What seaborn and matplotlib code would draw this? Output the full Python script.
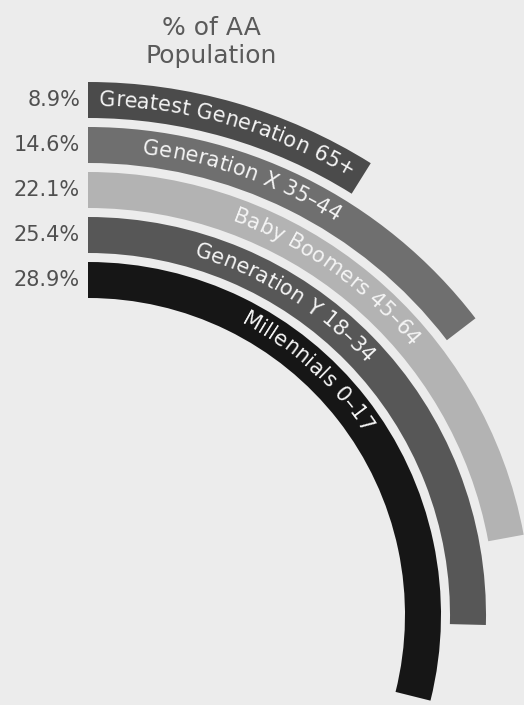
import numpy as np
import seaborn as sns
import matplotlib.pyplot as plt
from matplotlib.font_manager import FontProperties, findfont, get_font

# data, outermost ring first
generations = ["Greatest Generation 65+", "Generation X 35–44", "Baby Boomers 45–64",
               "Generation Y 18–34", "Millennials 0–17"]
shares = [8.9, 14.6, 22.1, 25.4, 28.9]
pct_labels = ["8.9%", "14.6%", "22.1%", "25.4%", "28.9%"]
ring_colors = ["#4b4b4b", "#6f6f6f", "#b3b3b3", "#575757", "#161616"]
label_start_deg = [1.2, 6.7, 20.0, 16.4, 27.6]
title = "% of AA\nPopulation"

bg = "#ececec"
sns.set_theme(style="white", rc={"figure.facecolor": bg, "axes.facecolor": bg})
plt.rcParams["font.family"] = ["DejaVu Sans"]

W, H = 524, 705
fig = plt.figure(figsize=(W / 100, H / 100), dpi=100)

# polar axes centred at pixel (88, 615) from top-left, 1 radial unit = 1 px
R = 545
cx, cy = 88, H - 615
ax = fig.add_axes([(cx - R) / W, (cy - R) / H, 2 * R / W, 2 * R / H], projection="polar")
ax.set_theta_zero_location("N")
ax.set_theta_direction(-1)
ax.set_ylim(0, R)
ax.axis("off")

band = 36
pitch = 45
inner0 = 317
n = len(shares)
bottoms = [inner0 + pitch * (n - 1 - i) for i in range(n)]

# 100% of population == full circle
theta = np.deg2rad(np.array(shares) * 3.6)
ax.bar(np.zeros(n), band, width=theta, bottom=bottoms, align="edge",
       color=ring_colors, edgecolor="none")

# curved labels, glyph by glyph
fp = FontProperties(family="DejaVu Sans", size=15)
font = get_font(findfont(fp))
font.set_size(15, 100)


def advances(s):
    out = []
    for ch in s:
        g = font.load_char(ord(ch))
        out.append(g.linearHoriAdvance / 65536)
    return out


for i, s in enumerate(generations):
    r_base = bottoms[i] + band / 2 - 5.5
    adv = advances(s)
    pos = np.concatenate([[0], np.cumsum(adv)])
    a0 = np.deg2rad(label_start_deg[i])
    for k, ch in enumerate(s):
        if ch == " ":
            continue
        ang = a0 + (pos[k] + pos[k + 1]) / 2 / r_base
        ax.text(ang, r_base, ch, rotation=-np.rad2deg(ang), rotation_mode="anchor",
                ha="center", va="baseline", fontproperties=fp, color="#f4f4f4")

# percentages at the left end of each ring
for i, p in enumerate(pct_labels):
    ax.annotate(p, xy=(0, bottoms[i] + band / 2), xytext=(-8, 0),
                textcoords="offset pixels", ha="right", va="center",
                fontsize=15, color="#505050", annotation_clip=False)

fig.text(211 / W, 1 - 42 / H, title, ha="center", va="center", fontsize=18,
         color="#5a5a5a", linespacing=1.2)

fig.savefig("out.png", dpi=100, facecolor=fig.get_facecolor())
